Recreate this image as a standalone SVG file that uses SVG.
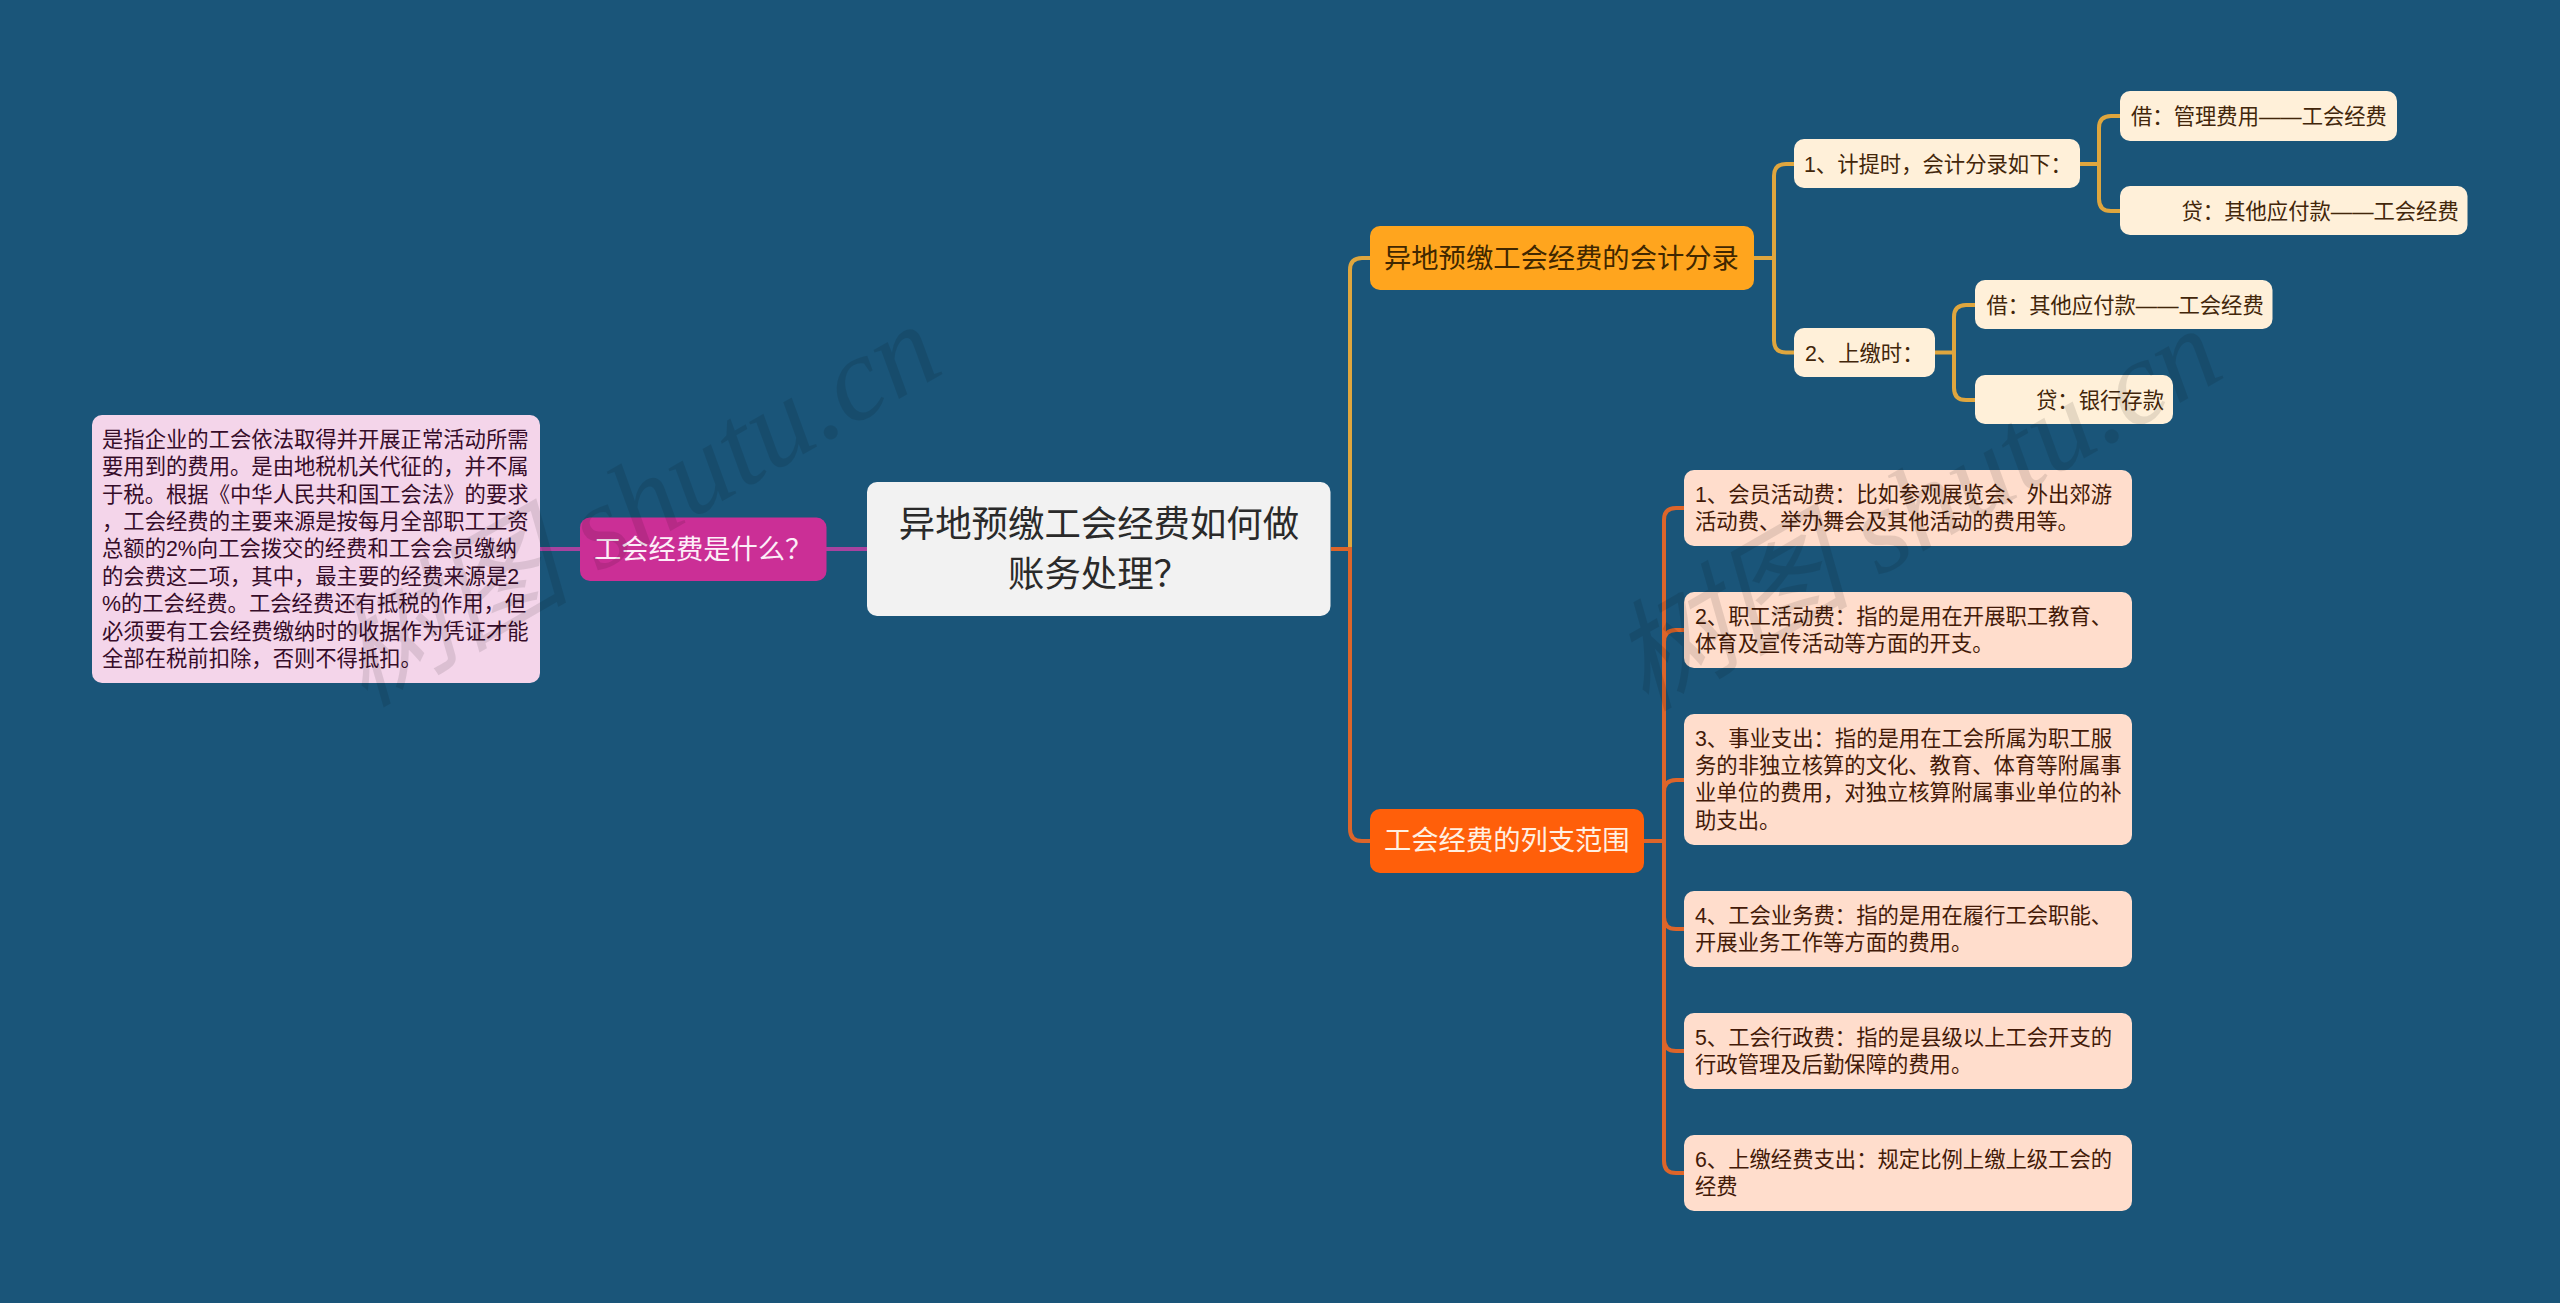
<svg xmlns="http://www.w3.org/2000/svg" width="2560" height="1303" viewBox="0 0 2560 1303">
<style>
text{font-family:"Liberation Sans","Noto Sans CJK SC",sans-serif;font-size:21.33px}
.c{fill:none;stroke-width:4}
.y{stroke:#dfa63e}.o{stroke:#dd652a}.p{stroke:#a8429f}
.big{font-size:27.3px}
.root{font-size:36.4px;fill:#2a2a2a;text-anchor:middle}
.ty{fill:#42260a}.tp{fill:#431a08}.tm{fill:#360c29}
.wm{font-family:"Liberation Serif","Noto Sans CJK SC",serif;font-style:italic;font-size:120px;fill:#000;fill-opacity:.1}
</style>
<rect width="2560" height="1303" fill="#1a5579"/>
<g id="connectors">
<path class="c p" d="M540 549H867"/>
<path class="c y" d="M1350 549V270Q1350 258 1362 258H1370"/>
<path class="c o" d="M1331 549H1350V829Q1350 841 1362 841H1370"/>
<path class="c y" d="M1754 258H1774M1794 164H1786Q1774 164 1774 176V340.500Q1774 352.500 1786 352.500H1794"/>
<path class="c y" d="M2080 164H2099M2120 116H2111Q2099 116 2099 128V199Q2099 211 2111 211H2120"/>
<path class="c y" d="M1935 352.500H1954M1975 305H1966Q1954 305 1954 317V388Q1954 400 1966 400H1975"/>
<path class="c o" d="M1644 841H1664M1684 508H1676Q1664 508 1664 520V1161Q1664 1173 1676 1173H1684M1684 630H1676Q1664 630 1664 642M1684 780H1676Q1664 780 1664 792M1664 917Q1664 929 1676 929H1684M1664 1039Q1664 1051 1676 1051H1684"/>
</g>
<g id="root"><rect x="867" y="482" width="463.500" height="134" rx="10" fill="#f2f2f2"/><text class="root" x="1099" y="537">异地预缴工会经费如何做</text><text class="root" x="1099" y="587">账务处理？</text></g>
<g id="what"><rect x="580" y="517.500" width="246.500" height="63.500" rx="10" fill="#cb2f96"/><text class="big" x="594" y="559" fill="#fdeef8">工会经费是什么？</text></g>
<g id="what-detail"><rect x="92" y="415" width="448" height="268" rx="10" fill="#f4d5ea"/>
<g class="tm"><text x="102" y="446.800">是指企业的工会依法取得并开展正常活动所需</text><text x="102" y="474.200">要用到的费用。是由地税机关代征的，并不属</text><text x="102" y="501.600">于税。根据《中华人民共和国工会法》的要求</text><text x="102" y="529">，工会经费的主要来源是按每月全部职工工资</text><text x="102" y="556.400">总额的2%向工会拨交的经费和工会会员缴纳</text><text x="102" y="583.800">的会费这二项，其中，最主要的经费来源是2</text><text x="102" y="611.200">%的工会经费。工会经费还有抵税的作用，但</text><text x="102" y="638.600">必须要有工会经费缴纳时的收据作为凭证才能</text><text x="102" y="666">全部在税前扣除，否则不得抵扣。</text></g></g>
<g id="accounting"><rect x="1370" y="226" width="384" height="64" rx="10" fill="#ffa51e"/><text class="big" x="1384" y="268" fill="#402700">异地预缴工会经费的会计分录</text></g>
<g id="acc-1"><rect x="1794" y="139" width="286" height="49" rx="10" fill="#fff0d9"/><text class="ty" x="1804" y="172">1、计提时，会计分录如下：</text></g>
<g id="acc-1-a"><rect x="2120" y="91" width="277" height="50" rx="10" fill="#fff0d9"/><text class="ty" x="2131" y="124">借：管理费用——工会经费</text></g>
<g id="acc-1-b"><rect x="2120" y="186" width="347.500" height="49" rx="10" fill="#fff0d9"/><text class="ty" x="2181.500" y="219">贷：其他应付款——工会经费</text></g>
<g id="acc-2"><rect x="1794" y="328" width="141" height="49" rx="10" fill="#fff0d9"/><text class="ty" x="1805" y="360.500">2、上缴时：</text></g>
<g id="acc-2-a"><rect x="1975" y="280" width="297.500" height="49" rx="10" fill="#fff0d9"/><text class="ty" x="1986.500" y="313">借：其他应付款——工会经费</text></g>
<g id="acc-2-b"><rect x="1975" y="375" width="198" height="49" rx="10" fill="#fff0d9"/><text class="ty" x="2036" y="408">贷：银行存款</text></g>
<g id="scope"><rect x="1370" y="809" width="274" height="64" rx="10" fill="#ff5f0a"/><text class="big" x="1384" y="850" fill="#fff0e2">工会经费的列支范围</text></g>
<g id="scope-1"><rect x="1684" y="470" width="448" height="76" rx="10" fill="#ffddcc"/><text class="tp" x="1695" y="501.500">1、会员活动费：比如参观展览会、外出郊游</text><text class="tp" x="1695" y="529">活动费、举办舞会及其他活动的费用等。</text></g>
<g id="scope-2"><rect x="1684" y="592" width="448" height="76" rx="10" fill="#ffddcc"/><text class="tp" x="1695" y="623.500">2、职工活动费：指的是用在开展职工教育、</text><text class="tp" x="1695" y="651">体育及宣传活动等方面的开支。</text></g>
<g id="scope-3"><rect x="1684" y="714" width="448" height="131" rx="10" fill="#ffddcc"/><text class="tp" x="1695" y="745.500">3、事业支出：指的是用在工会所属为职工服</text><text class="tp" x="1695" y="773">务的非独立核算的文化、教育、体育等附属事</text><text class="tp" x="1695" y="800.400">业单位的费用，对独立核算附属事业单位的补</text><text class="tp" x="1695" y="827.800">助支出。</text></g>
<g id="scope-4"><rect x="1684" y="891" width="448" height="76" rx="10" fill="#ffddcc"/><text class="tp" x="1695" y="922.500">4、工会业务费：指的是用在履行工会职能、</text><text class="tp" x="1695" y="950">开展业务工作等方面的费用。</text></g>
<g id="scope-5"><rect x="1684" y="1013" width="448" height="76" rx="10" fill="#ffddcc"/><text class="tp" x="1695" y="1044.500">5、工会行政费：指的是县级以上工会开支的</text><text class="tp" x="1695" y="1072">行政管理及后勤保障的费用。</text></g>
<g id="scope-6"><rect x="1684" y="1135" width="448" height="76" rx="10" fill="#ffddcc"/><text class="tp" x="1695" y="1166.500">6、上缴经费支出：规定比例上缴上级工会的</text><text class="tp" x="1695" y="1194">经费</text></g>
<g id="watermarks">
<text class="wm" transform="translate(364 708) rotate(-30)">树图 shutu.cn</text>
<text class="wm" transform="translate(1645 712) rotate(-30)">树图 shutu.cn</text>
</g>
</svg>
